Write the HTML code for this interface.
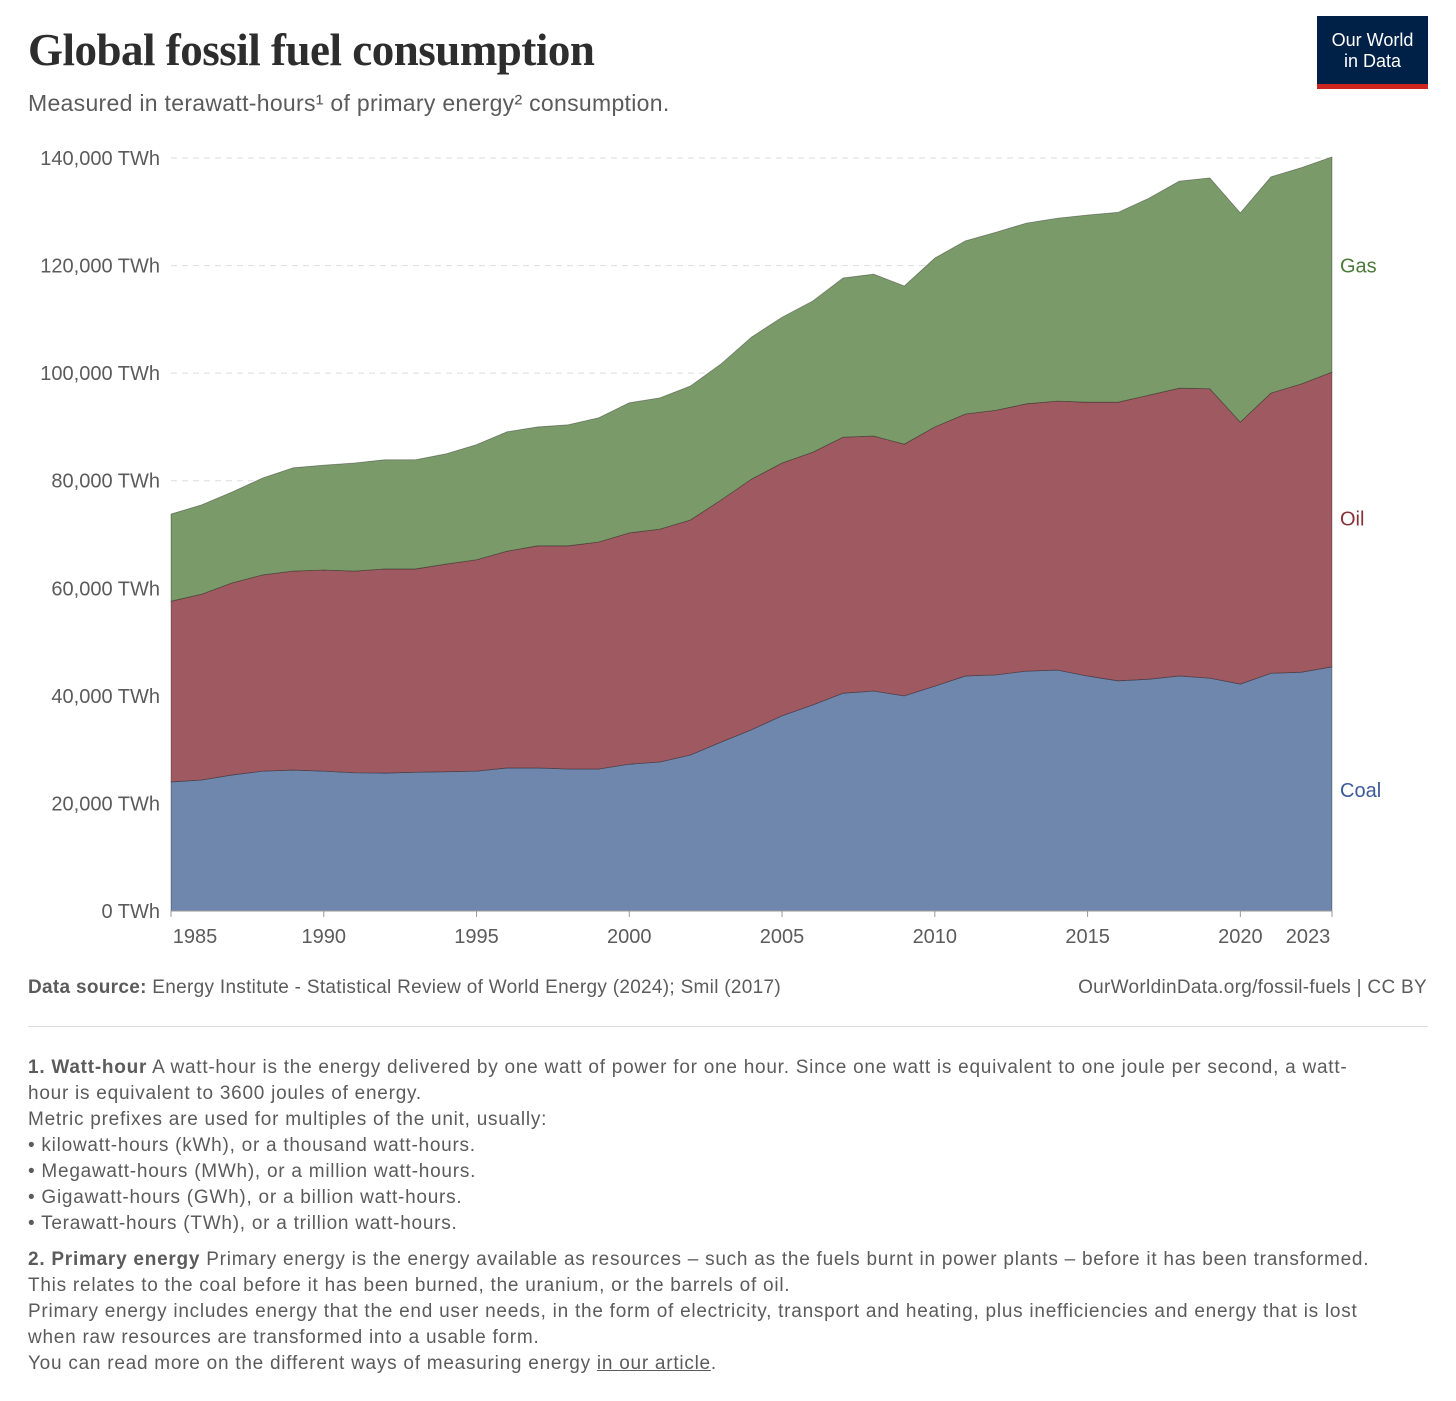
<!DOCTYPE html>
<html><head><meta charset="utf-8">
<style>
body{margin:0;background:#fff;width:1456px;height:1401px;overflow:hidden;font-family:"Liberation Sans",sans-serif;color:#5b5b5b;position:relative}
.abs{position:absolute}
#title{left:28px;top:24px;font-family:"Liberation Serif",serif;font-weight:bold;font-size:45px;color:#2d2d2d;letter-spacing:-0.5px}
#subtitle{left:28px;top:90px;font-size:23px;color:#5b5b5b;letter-spacing:0.3px}
#logo{left:1317px;top:16px;width:111px;height:73px;background:#002147;color:#fff;text-align:center;font-size:18px;line-height:21px;box-sizing:border-box;padding-top:14px;border-bottom:5px solid #ce261e}
.foot{font-size:19px;color:#5b5b5b;line-height:26px}
#notes{letter-spacing:0.75px}
#notes p{margin:0}
</style></head><body>
<div id="title" class="abs">Global fossil fuel consumption</div>
<div id="subtitle" class="abs">Measured in terawatt-hours¹ of primary energy² consumption.</div>
<div id="logo" class="abs">Our World<br>in Data</div>
<svg id="chart" class="abs" style="left:0;top:130px" width="1456" height="830"></svg>
<div class="abs foot" style="left:28px;top:975px;letter-spacing:0.3px"><b>Data source:</b> Energy Institute - Statistical Review of World Energy (2024); Smil (2017)</div>
<div class="abs foot" style="right:29px;top:975px;letter-spacing:0.3px">OurWorldinData.org/fossil-fuels | CC BY</div>
<div class="abs" style="left:28px;top:1026px;width:1400px;height:1px;background:#ddd"></div>
<div id="notes" class="abs foot" style="left:28px;top:1055px;width:1345px">
<p><b>1. Watt-hour</b> A watt-hour is the energy delivered by one watt of power for one hour. Since one watt is equivalent to one joule per second, a watt-hour is equivalent to 3600 joules of energy.</p>
<p>Metric prefixes are used for multiples of the unit, usually:</p>
<p>• kilowatt-hours (kWh), or a thousand watt-hours.</p>
<p>• Megawatt-hours (MWh), or a million watt-hours.</p>
<p>• Gigawatt-hours (GWh), or a billion watt-hours.</p>
<p>• Terawatt-hours (TWh), or a trillion watt-hours.</p>
<p style="margin-top:10px"><b>2. Primary energy</b> Primary energy is the energy available as resources – such as the fuels burnt in power plants – before it has been transformed. This relates to the coal before it has been burned, the uranium, or the barrels of oil.</p>
<p>Primary energy includes energy that the end user needs, in the form of electricity, transport and heating, plus inefficiencies and energy that is lost when raw resources are transformed into a usable form.</p>
<p>You can read more on the different ways of measuring energy <u>in our article</u>.</p>
</div>
<script>
const years=[];for(let y=1985;y<=2023;y++)years.push(y);
const coal=[24000,24350,25300,26000,26200,26000,25700,25650,25800,25900,26000,26600,26600,26400,26400,27300,27700,29000,31400,33700,36300,38300,40500,40900,40000,41800,43700,43900,44600,44800,43700,42800,43100,43700,43300,42200,44200,44400,45400];
const oil=[33600,34550,35700,36500,37000,37400,37500,37950,37800,38600,39300,40300,41300,41500,42200,43000,43300,43700,45000,46600,47000,47000,47600,47400,46800,48200,48700,49200,49700,50000,50900,51800,52800,53500,53800,48700,52100,53600,54800];
const gas=[16200,16600,16900,18000,19200,19500,20100,20300,20300,20500,21400,22200,22100,22500,23100,24200,24400,24900,25300,26400,27100,28100,29600,30100,29400,31400,32200,33100,33600,34000,34800,35300,36600,38500,39200,38900,40200,40200,40000];
const yTicks=[0,20000,40000,60000,80000,100000,120000,140000];
const xTicks=[1985,1990,1995,2000,2005,2010,2015,2020,2023];
const svg=document.getElementById('chart');const NS='http://www.w3.org/2000/svg';
const OY=130;
const X=y=>171+(y-1985)*(1332-171)/38;
const Y=v=>911-OY-v*(911-158)/140000;
function mk(t,a){const e=document.createElementNS(NS,t);for(const k in a)e.setAttribute(k,a[k]);svg.appendChild(e);return e;}
yTicks.forEach(v=>{
 if(v>0){const l=mk('line',{x1:171,x2:1332,y1:Y(v),y2:Y(v),stroke:'#ddd','stroke-dasharray':'6,5'});
 
 }
 const t=mk('text',{x:160,y:Y(v)+7,'text-anchor':'end','font-size':20,fill:'#5b5b5b'});t.textContent=v.toLocaleString('en-US')+' TWh';
 
 
});
const series=[['coal',coal,'#6f86ad'],['oil',oil,'#9e5a60'],['gas',gas,'#7a9a69']];
let base=years.map(()=>0);
series.forEach(([n,vals,c])=>{
 const top=base.map((b,i)=>b+vals[i]);
 let d='M'+years.map((y,i)=>X(y)+','+Y(top[i])).join('L');
 for(let i=years.length-1;i>=0;i--)d+='L'+X(years[i])+','+Y(base[i]);
 const p=mk('path',{d:d+'Z',fill:c,stroke:'rgba(0,0,0,0.35)','stroke-width':0.8});
 
 
 base=top;
});
mk('line',{x1:171,x2:1332,y1:Y(0),y2:Y(0),stroke:'#999'});
xTicks.forEach(y=>{
 mk('line',{x1:X(y),x2:X(y),y1:Y(0),y2:Y(0)+6,stroke:'#999'});
 let tx=X(y);if(y===1985)tx+=24;if(y===2023)tx-=24;
 const t=mk('text',{x:tx,y:Y(0)+32,'text-anchor':'middle','font-size':20,fill:'#5b5b5b'});t.textContent=y;
 
 
});
const labels=[['Gas',Y(120000),'#4c7a3a'],['Oil',Y(73000),'#883039'],['Coal',Y(22500),'#3c5a99']];
labels.forEach(([s,y,c])=>{const t=mk('text',{x:1340,y:y+7,'font-size':20,fill:c});t.textContent=s;
 
 });
</script>
</body></html>
